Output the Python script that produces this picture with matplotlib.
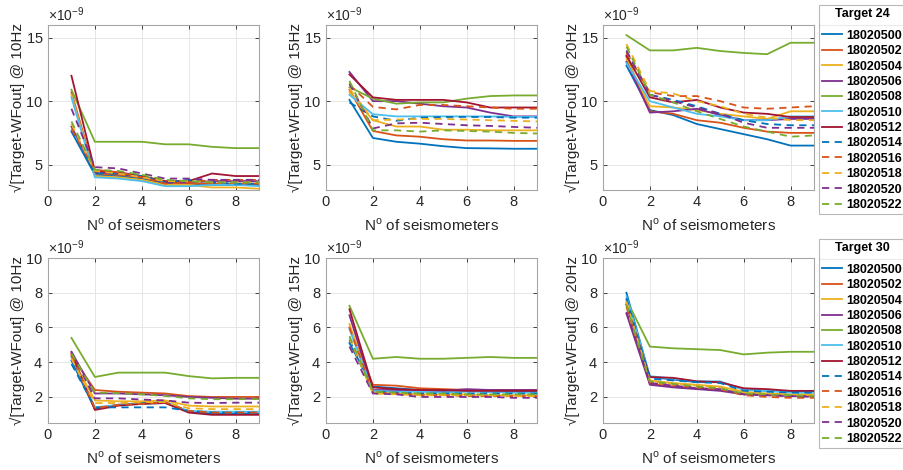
import numpy as np
import matplotlib
matplotlib.use("Agg")
import matplotlib.pyplot as plt
from matplotlib.ticker import ScalarFormatter
from matplotlib.lines import Line2D

plt.rcParams['font.family'] = ['Liberation Sans', 'DejaVu Sans']
plt.rcParams['mathtext.fontset'] = 'custom'
plt.rcParams['mathtext.rm'] = 'Liberation Sans'

n_seis = [1, 2, 3, 4, 5, 6, 7, 8, 9]
stations = ['18020500', '18020502', '18020504', '18020506', '18020508', '18020510',
            '18020512', '18020514', '18020516', '18020518', '18020520', '18020522']
freqs = ['10Hz', '15Hz', '20Hz']
targets = ['Target 24', 'Target 30']

# values in units of 1e-9, one row per station
t24_10hz = [
    [7.6, 4.2, 4.1, 3.9, 3.5, 3.5, 3.4, 3.4, 3.4],
    [10.7, 4.3, 4.2, 4.0, 3.6, 3.5, 3.5, 3.5, 3.5],
    [10.5, 4.1, 4.0, 3.8, 3.4, 3.4, 3.2, 3.2, 3.1],
    [8.0, 4.4, 4.3, 4.0, 3.6, 3.6, 3.7, 3.7, 3.7],
    [10.9, 6.8, 6.8, 6.8, 6.6, 6.6, 6.4, 6.3, 6.3],
    [10.3, 4.0, 3.9, 3.7, 3.3, 3.3, 3.4, 3.4, 3.3],
    [12.0, 4.5, 4.4, 4.1, 3.7, 3.7, 4.3, 4.1, 4.1],
    [7.7, 4.3, 4.3, 4.1, 3.6, 3.8, 3.6, 3.5, 3.5],
    [7.8, 4.6, 4.4, 4.0, 3.5, 3.6, 3.8, 3.8, 3.8],
    [8.2, 4.5, 4.3, 4.0, 3.7, 3.7, 3.6, 3.6, 3.6],
    [9.4, 4.8, 4.7, 4.3, 3.9, 3.9, 3.8, 3.8, 3.8],
    [8.4, 4.6, 4.5, 4.2, 3.8, 3.7, 3.6, 3.6, 3.6],
]
t24_15hz = [
    [10.1, 7.1, 6.8, 6.65, 6.45, 6.3, 6.28, 6.25, 6.25],
    [10.9, 7.65, 7.3, 7.2, 7.0, 6.9, 6.9, 6.87, 6.87],
    [10.7, 8.5, 8.0, 8.0, 7.75, 7.75, 7.7, 7.7, 7.7],
    [12.3, 10.0, 10.0, 9.8, 9.6, 9.5, 9.1, 8.8, 8.8],
    [11.1, 10.2, 9.8, 9.9, 9.9, 10.2, 10.4, 10.45, 10.45],
    [10.5, 8.97, 8.8, 8.8, 8.8, 8.8, 8.8, 8.76, 8.76],
    [12.1, 10.3, 10.1, 10.1, 10.1, 9.9, 9.5, 9.5, 9.5],
    [9.9, 8.8, 8.45, 8.7, 8.75, 8.76, 8.75, 8.7, 8.7],
    [11.3, 9.55, 9.35, 9.7, 9.7, 9.6, 9.5, 9.4, 9.4],
    [11.0, 8.5, 8.55, 8.6, 8.6, 8.55, 8.5, 8.45, 8.4],
    [11.4, 7.85, 8.25, 8.3, 8.2, 8.1, 8.05, 7.97, 7.9],
    [11.6, 7.7, 7.7, 7.6, 7.7, 7.65, 7.6, 7.5, 7.45],
]
t24_20hz = [
    [12.8, 9.3, 8.9, 8.2, 7.8, 7.4, 7.0, 6.5, 6.5],
    [13.5, 9.2, 9.0, 8.5, 8.3, 7.9, 7.6, 7.5, 7.5],
    [13.3, 9.6, 9.5, 9.3, 9.0, 8.8, 8.6, 9.2, 9.2],
    [13.1, 9.1, 9.2, 9.4, 8.9, 8.5, 8.5, 8.6, 8.6],
    [15.2, 14.0, 14.0, 14.2, 13.95, 13.8, 13.7, 14.6, 14.6],
    [13.0, 10.0, 9.5, 9.0, 8.8, 8.5, 8.5, 8.8, 8.8],
    [13.6, 10.3, 9.9, 10.1, 9.5, 9.1, 9.0, 8.75, 8.75],
    [13.9, 10.5, 10.1, 9.6, 9.0, 8.5, 8.2, 8.1, 8.1],
    [13.8, 10.7, 10.4, 10.4, 10.0, 9.5, 9.4, 9.5, 9.6],
    [14.5, 10.8, 10.6, 10.0, 9.6, 9.0, 8.7, 8.5, 8.5],
    [14.0, 10.5, 10.0, 9.5, 9.0, 8.3, 7.9, 7.9, 7.9],
    [14.3, 10.5, 9.9, 9.2, 8.6, 8.0, 7.6, 7.2, 7.3],
]
t30_10hz = [
    [4.1, 1.3, 1.55, 1.65, 1.7, 1.15, 1.05, 1.05, 1.05],
    [4.4, 2.4, 2.3, 2.25, 2.2, 2.05, 2.0, 2.0, 2.0],
    [4.3, 1.8, 1.75, 1.75, 1.8, 1.5, 1.45, 1.45, 1.45],
    [4.6, 2.2, 2.2, 2.15, 2.1, 2.0, 1.95, 1.9, 1.9],
    [5.4, 3.15, 3.4, 3.4, 3.4, 3.2, 3.07, 3.1, 3.1],
    [4.3, 1.4, 1.55, 1.6, 1.65, 1.2, 1.15, 1.15, 1.15],
    [4.5, 1.25, 1.5, 1.6, 1.65, 1.1, 0.97, 0.97, 0.97],
    [3.9, 1.4, 1.4, 1.4, 1.4, 1.2, 1.1, 1.1, 1.1],
    [4.4, 1.35, 1.55, 1.6, 1.7, 1.2, 1.1, 1.1, 1.1],
    [4.2, 1.65, 1.65, 1.7, 1.7, 1.35, 1.3, 1.3, 1.3],
    [4.6, 1.92, 1.92, 1.85, 1.8, 1.67, 1.65, 1.67, 1.67],
    [4.5, 2.25, 2.22, 2.15, 2.06, 1.92, 1.87, 1.87, 1.88],
]
t30_15hz = [
    [5.1, 2.6, 2.5, 2.4, 2.35, 2.35, 2.3, 2.3, 2.3],
    [6.0, 2.7, 2.65, 2.5, 2.45, 2.4, 2.4, 2.4, 2.4],
    [6.2, 2.25, 2.2, 2.15, 2.15, 2.15, 2.1, 2.1, 2.1],
    [6.7, 2.4, 2.4, 2.35, 2.35, 2.45, 2.4, 2.4, 2.4],
    [7.25, 4.2, 4.3, 4.2, 4.2, 4.25, 4.3, 4.25, 4.25],
    [5.9, 2.35, 2.3, 2.3, 2.25, 2.3, 2.3, 2.25, 2.25],
    [7.05, 2.55, 2.45, 2.4, 2.4, 2.35, 2.35, 2.35, 2.35],
    [5.3, 2.3, 2.25, 2.2, 2.2, 2.2, 2.2, 2.2, 2.2],
    [6.0, 2.25, 2.2, 2.1, 2.1, 2.05, 2.05, 2.05, 2.05],
    [5.4, 2.2, 2.15, 2.1, 2.1, 2.1, 2.1, 2.05, 2.05],
    [4.9, 2.2, 2.15, 2.0, 2.0, 2.0, 2.0, 1.95, 1.95],
    [5.5, 2.3, 2.25, 2.2, 2.2, 2.15, 2.15, 2.15, 2.15],
]
t30_20hz = [
    [8.0, 3.15, 3.0, 2.85, 2.85, 2.45, 2.35, 2.3, 2.3],
    [7.4, 2.75, 2.6, 2.5, 2.4, 2.2, 2.15, 2.1, 2.1],
    [7.5, 2.95, 2.8, 2.7, 2.6, 2.3, 2.2, 2.15, 2.15],
    [6.8, 2.7, 2.55, 2.45, 2.35, 2.15, 2.1, 2.05, 2.05],
    [7.6, 4.9, 4.8, 4.75, 4.7, 4.45, 4.55, 4.6, 4.6],
    [7.8, 3.2, 3.05, 2.9, 2.9, 2.4, 2.35, 2.25, 2.25],
    [7.3, 3.15, 3.1, 2.9, 2.85, 2.5, 2.45, 2.35, 2.35],
    [7.7, 3.05, 2.95, 2.85, 2.8, 2.35, 2.3, 2.25, 2.25],
    [7.2, 2.85, 2.7, 2.55, 2.45, 2.1, 2.0, 1.95, 1.95],
    [7.5, 2.9, 2.75, 2.65, 2.55, 2.25, 2.15, 2.1, 2.1],
    [6.9, 2.8, 2.65, 2.5, 2.45, 2.15, 2.1, 2.05, 2.0],
    [7.3, 2.9, 2.75, 2.6, 2.5, 2.2, 2.15, 2.1, 2.05],
]

panels = [[t24_10hz, t24_15hz, t24_20hz], [t30_10hz, t30_15hz, t30_20hz]]

colors = ['#0072BD', '#D95319', '#EDB120', '#7E2F8E', '#77AC30', '#4DBEEE', '#A2142F']
styles = [(colors[i], '-') for i in range(7)] + [(colors[i], (0, (4, 3))) for i in range(5)]

fig = plt.figure(figsize=(9.04, 4.70), dpi=100)
W, H = 904, 470
col_left = [48, 326, 603]
row_top = [25, 258]
ax_w, ax_h = 211, 165
ylims = [(3e-9, 16e-9), (0.5e-9, 10e-9)]
yticks = [[5e-9, 10e-9, 15e-9], [2e-9, 4e-9, 6e-9, 8e-9, 10e-9]]
legend_top = [5, 239]
txt = '#262626'

for r in range(2):
    for c in range(3):
        ax = fig.add_axes([col_left[c] / W, 1 - (row_top[r] + ax_h) / H, ax_w / W, ax_h / H])
        handles = []
        for k, vals in enumerate(panels[r][c]):
            col, ls = styles[k]
            h, = ax.plot(n_seis, np.array(vals) * 1e-9, color=col, linestyle=ls, lw=1.3,
                         label=stations[k])
            handles.append(h)
        ax.set_xlim(0, 9)
        ax.set_ylim(*ylims[r])
        ax.set_xticks([0, 2, 4, 6, 8])
        ax.set_yticks(yticks[r])
        fmt = ScalarFormatter(useMathText=True)
        fmt.set_powerlimits((-9, -9))
        ax.yaxis.set_major_formatter(fmt)
        ax.yaxis.get_offset_text().set_fontsize(10)
        ax.yaxis.get_offset_text().set_color(txt)
        ax.grid(True, color='#e6e6e6', lw=0.7)
        ax.tick_params(direction='in', length=3, labelsize=10.5, colors=txt,
                       top=True, right=True, width=0.6)
        for sp in ax.spines.values():
            sp.set_color('#a6a6a6')
            sp.set_linewidth(0.8)
        ax.set_xlabel(r'N$^{\rm o}$ of seismometers', fontsize=11, color=txt, labelpad=6)
        ax.set_ylabel('\u221a[Target-WFout] @ ' + freqs[c], fontsize=11, color=txt, labelpad=0)

        if c == 2:
            leg = fig.legend(handles=handles, loc='upper left',
                             bbox_to_anchor=(819 / W, 1 - legend_top[r] / H),
                             title=targets[r], prop={'weight': 'bold', 'size': 9},
                             title_fontproperties={'weight': 'bold', 'size': 9},
                             frameon=True, fancybox=False, edgecolor='#a6a6a6',
                             labelspacing=0.27, handlelength=1.6, handletextpad=0.3,
                             borderpad=0.25, borderaxespad=0)
            leg.get_frame().set_linewidth(0.8)
            leg._legend_box.sep = 7

fig.canvas.draw()
renderer = fig.canvas.get_renderer()
for leg in fig.legends:
    fb = leg.get_frame().get_window_extent(renderer)
    tb = leg.get_title().get_window_extent(renderer)
    eb = leg.get_texts()[0].get_window_extent(renderer)
    y = (tb.y0 + eb.y1) / 2 / H
    fig.add_artist(Line2D([fb.x0 / W, fb.x1 / W], [y, y], color='#a6a6a6', lw=0.8))

fig.savefig('out.png', dpi=100)
